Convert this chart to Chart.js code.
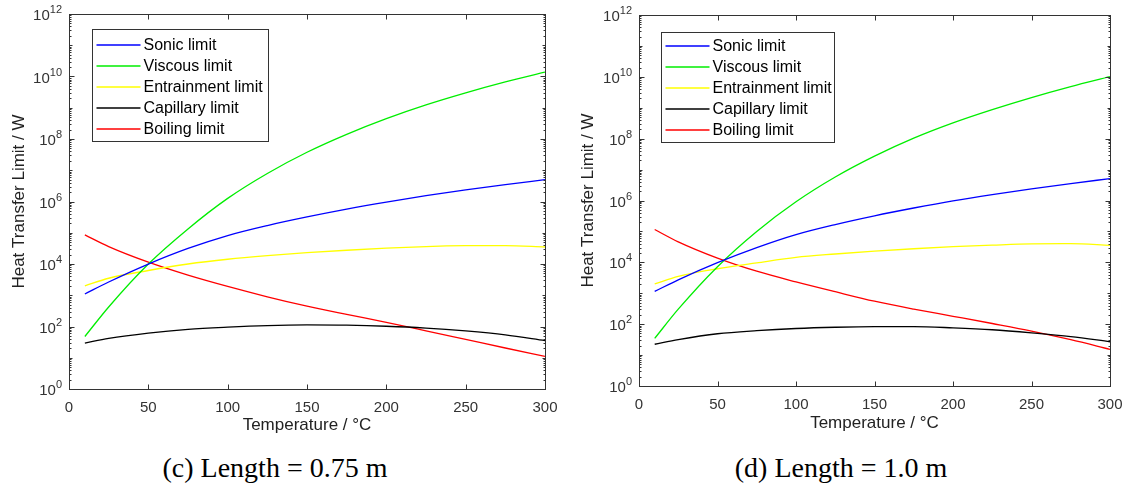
<!DOCTYPE html>
<html><head><meta charset="utf-8">
<script src="https://cdn.jsdelivr.net/npm/chart.js@4/dist/chart.umd.min.js"></script>
<style>
html,body{margin:0;padding:0;background:#fff;width:1127px;height:491px;overflow:hidden;position:relative}
.wrap{position:absolute;top:0}
.cap{position:absolute;font-family:"Liberation Serif","Times New Roman",serif;font-size:28px;line-height:28px;color:#000;white-space:nowrap;transform:translateX(-50%)}
</style></head><body>
<div class="wrap" style="left:0;width:560px;height:445px"><canvas id="c1" width="560" height="445"></canvas></div>
<div class="wrap" style="left:565px;width:562px;height:445px"><canvas id="c2" width="562" height="445"></canvas></div>
<div class="cap" style="left:275px;top:454px">(c) Length = 0.75 m</div>
<div class="cap" style="left:841px;top:454px">(d) Length = 1.0 m</div>
<script>
// ---- data ----
const temperatures = [10, 25, 50, 75, 100, 125, 150, 175, 200, 225, 250, 275, 300];
const seriesNames = ['Sonic limit', 'Viscous limit', 'Entrainment limit', 'Capillary limit', 'Boiling limit'];

// (c) Length = 0.75 m
const sonicC      = [1.1e3, 2.65e3, 9.94e3, 3.14e4, 8.13e4, 1.70e5, 3.2e5, 5.69e5, 9.55e5, 1.53e6, 2.36e6, 3.49e6, 4.98e6];
const viscousC    = [47.9, 422, 1.0e4, 1.33e5, 1.26e6, 7.9e6, 3.76e7, 1.41e8, 4.47e8, 1.23e9, 2.99e9, 6.68e9, 1.38e10];
const entrainC    = [2.0e3, 3.5e3, 6.2e3, 1.0e4, 1.42e4, 1.85e4, 2.3e4, 2.75e4, 3.2e4, 3.6e4, 3.85e4, 3.9e4, 3.5e4];
const capillaryC  = [29.5, 41.7, 61.7, 81.3, 95.5, 107, 112, 110, 102, 89, 72, 54, 35.5];
const boilingC    = [8.5e4, 3.59e4, 1.14e4, 4.39e3, 1.91e3, 891, 447, 244, 136, 72.9, 38.7, 20.5, 11.0];

// (d) Length = 1.0 m
const sonicD      = [1.15e3, 2.72e3, 9.77e3, 3.0e4, 7.9e4, 1.67e5, 3.2e5, 5.72e5, 9.77e5, 1.56e6, 2.39e6, 3.53e6, 5.1e6];
const viscousD    = [34.7, 305, 7.24e3, 1.0e5, 9.1e5, 5.75e6, 2.72e7, 1.04e8, 3.24e8, 8.7e8, 2.14e9, 4.84e9, 1.02e10];
const entrainD    = [2.0e3, 3.5e3, 6.2e3, 9.6e3, 1.45e4, 1.86e4, 2.3e4, 2.75e4, 3.2e4, 3.6e4, 3.95e4, 4.0e4, 3.55e4];
const capillaryD  = [22.4, 31.6, 49, 61.7, 72.4, 79.4, 83.2, 83.2, 75.9, 66, 52.5, 39.8, 27];
const boilingD    = [1.15e5, 4.6e4, 1.37e4, 5.16e3, 2.33e3, 1.12e3, 553, 307, 180, 105, 59.9, 31.4, 15.3];

const xTickValues = [0, 50, 100, 150, 200, 250, 300];
const xTickLabels = ['0', '50', '100', '150', '200', '250', '300'];
const yTickValues = [1, 1e2, 1e4, 1e6, 1e8, 1e10, 1e12];
const yTickBase = '10';
const yTickExponents = ['0', '2', '4', '6', '8', '10', '12'];

// ---- styles ----
const seriesColors = ['#0000ff', '#00ee00', '#ffff00', '#000000', '#ff0000'];
const FONT = '"Liberation Sans", Arial, sans-serif';
const AXIS = '#333333';

const frame = {
  id: 'frame',
  afterDatasetsDraw(chart) {
    const ctx = chart.ctx, ca = chart.chartArea, xs = chart.scales.x, ys = chart.scales.y;
    const L = Math.round(ca.left) + .5, R = Math.round(ca.right) + .5, T = Math.round(ca.top) + .5, B = Math.round(ca.bottom) + .5;
    ctx.save();
    ctx.strokeStyle = AXIS; ctx.lineWidth = 1;
    ctx.strokeRect(L, T, R - L, B - T);
    ctx.beginPath();
    xTickValues.forEach(v => {
      const px = Math.round(xs.getPixelForValue(v)) + .5;
      ctx.moveTo(px, B); ctx.lineTo(px, B - 5);
      ctx.moveTo(px, T); ctx.lineTo(px, T + 5);
    });
    for (let d = 0; d < 12; d++) {
      for (let k = 1; k <= 9; k++) {
        const v = k * Math.pow(10, d);
        const py = Math.round(ys.getPixelForValue(v)) + .5;
        const len = (k === 1 && d % 2 === 0) ? 5 : (k === 1 ? 3 : 2);
        ctx.moveTo(L, py); ctx.lineTo(L + len, py);
        ctx.moveTo(R, py); ctx.lineTo(R - len, py);
      }
    }
    ctx.stroke();
    // y tick labels: 10 with superscript exponent
    ctx.fillStyle = AXIS;
    ctx.textBaseline = 'alphabetic';
    yTickValues.forEach((v, i) => {
      const py = ys.getPixelForValue(v);
      ctx.font = '11px ' + FONT;
      const ew = ctx.measureText(yTickExponents[i]).width;
      const xr = ca.left - 7;
      ctx.textAlign = 'left';
      ctx.fillText(yTickExponents[i], xr - ew, py - 1);
      ctx.font = '15px ' + FONT;
      ctx.textAlign = 'right';
      ctx.fillText(yTickBase, xr - ew, py + 6);
    });
    ctx.restore();
  }
};

const boxLegend = {
  id: 'boxLegend',
  afterDraw(chart, args, o) {
    const ctx = chart.ctx, ca = chart.chartArea;
    const x0 = Math.round(ca.left + o.dx) + .5, y0 = Math.round(ca.top + o.dy) + .5;
    ctx.save();
    ctx.fillStyle = '#fff'; ctx.fillRect(x0, y0, o.w, o.h);
    ctx.strokeStyle = AXIS; ctx.lineWidth = 1; ctx.strokeRect(x0, y0, o.w, o.h);
    ctx.font = '16px ' + FONT;
    ctx.textBaseline = 'middle';
    ctx.textAlign = 'left';
    seriesNames.forEach((name, i) => {
      const y = Math.round(y0 + o.first + i * o.step);
      ctx.strokeStyle = seriesColors[i]; ctx.lineWidth = 1.5;
      ctx.beginPath(); ctx.moveTo(x0 + 4, y); ctx.lineTo(x0 + 48, y); ctx.stroke();
      ctx.fillStyle = '#000'; ctx.fillText(name, x0 + 51, y + 1);
    });
    ctx.restore();
  }
};

function makeChart(id, series, geo) {
  const datasets = series.map((vals, i) => ({
    label: seriesNames[i],
    data: temperatures.map((t, j) => ({x: t, y: vals[j]})),
    borderColor: seriesColors[i],
    borderWidth: 1.3,
    pointRadius: 0,
    cubicInterpolationMode: 'monotone',
    fill: false
  }));
  return new Chart(document.getElementById(id), {
    type: 'line',
    data: {datasets},
    plugins: [frame, boxLegend],
    options: {
      responsive: false, animation: false, devicePixelRatio: 1,
      layout: {padding: {top: geo.top, right: geo.right, left: 0, bottom: 0}},
      plugins: {legend: {display: false}, tooltip: {enabled: false},
        boxLegend: geo.legend},
      scales: {
        x: {
          type: 'linear', min: 0, max: 300,
          afterBuildTicks: s => { s.ticks = xTickValues.map(v => ({value: v})); },
          afterFit: s => { s.height = geo.xh; },
          ticks: {callback: (v, i) => xTickLabels[i], font: {family: FONT, size: 15}, color: AXIS, padding: geo.xpad, maxRotation: 0, autoSkip: false},
          grid: {display: false}, border: {display: false},
          title: {display: true, text: 'Temperature / °C', font: {family: FONT, size: 17}, color: '#222', padding: {top: 0, bottom: geo.xtp}}
        },
        y: {
          type: 'logarithmic', min: 1, max: 1e12,
          afterBuildTicks: s => { s.ticks = yTickValues.map(v => ({value: v})); },
          afterFit: s => { s.width = geo.yw; },
          ticks: {display: false},
          grid: {display: false}, border: {display: false},
          title: {display: true, text: 'Heat Transfer Limit / W', font: {family: FONT, size: 17}, color: '#222', padding: {top: geo.ytp, bottom: 0}}
        }
      }
    }
  });
}

makeChart('c1', [sonicC, viscousC, entrainC, capillaryC, boilingC],
  {top: 14, right: 15, xh: 56, yw: 69, xtp: 9, ytp: 9, xpad: 2,
   legend: {dx: 23, dy: 15, w: 176, h: 112, first: 15, step: 21.2}});
makeChart('c2', [sonicD, viscousD, entrainD, capillaryD, boilingD],
  {top: 15, right: 17, xh: 59, yw: 74, xtp: 11, ytp: 13, xpad: 2,
   legend: {dx: 22, dy: 17, w: 173, h: 110, first: 13, step: 21.2}});
</script>
</body></html>
